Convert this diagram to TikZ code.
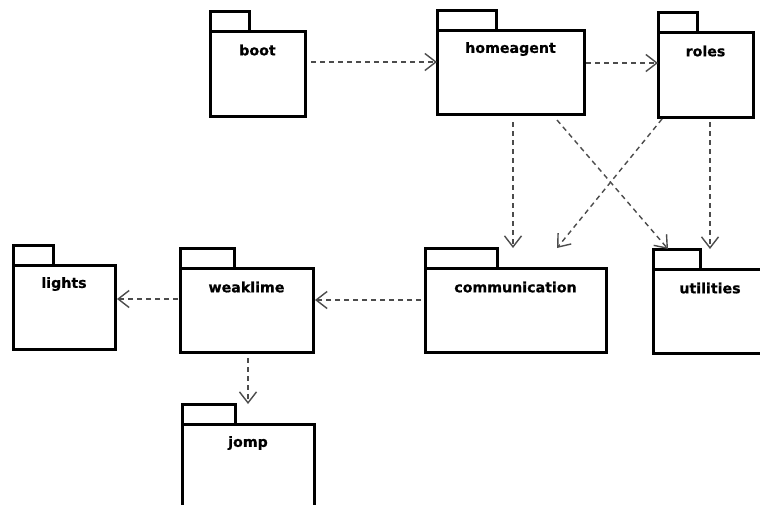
\documentclass[tikz,border=0pt]{standalone}
\usepackage{fontspec}
\setmainfont{DejaVu Sans}
\newfontfamily\pkgfont{DejaVu Sans}[BoldFeatures={FakeBold=0.6}]
\usetikzlibrary{arrows.meta}

\tikzset{
  pkgline/.style={line width=3pt, black},
  pkgbody/.style={pkgline, draw, fill=white, rectangle, anchor=north west,
                  inner sep=0pt, outer sep=0pt},
  pkgname/.style={font=\pkgfont\bfseries\fontsize{14.2}{16}\selectfont, inner sep=0pt,
                  anchor=center},
  dep/.style={draw=black!70, line width=1.4pt, dash pattern=on 5pt off 4pt,
              -{Straight Barb[length=11pt, width=17pt, line width=1.4pt]}},
}

% draws the folder tab on top of a package body
\newcommand{\pkgtab}[2]{%
  \draw[pkgline] (#1.north west) -- ++(0,-20) -| ([xshift=#2pt]#1.north west);}

\begin{document}
\begin{tikzpicture}[x=1pt, y=-1pt]
  \useasboundingbox (0,0) rectangle (760,504);
  \clip (0,0) rectangle (760,504);
  \fill[white] (0,0) rectangle (760,504);

  % package bodies
  \node[pkgbody, minimum width=95pt,  minimum height=85pt] (boot)          at (210,31)  {};
  \node[pkgbody, minimum width=147pt, minimum height=84pt] (homeagent)     at (437,30)  {};
  \node[pkgbody, minimum width=95pt,  minimum height=85pt] (roles)         at (658,32)  {};
  \node[pkgbody, minimum width=181pt, minimum height=84pt] (communication) at (425,268) {};
  \node[pkgbody, minimum width=130pt, minimum height=84pt] (utilities)     at (653,269) {};
  \node[pkgbody, minimum width=102pt, minimum height=84pt] (lights)        at (13,265)  {};
  \node[pkgbody, minimum width=133pt, minimum height=84pt] (weaklime)      at (180,268) {};
  \node[pkgbody, minimum width=132pt, minimum height=110pt] (jomp)         at (182,424) {};

  % folder tabs
  \pkgtab{boot}{39}
  \pkgtab{homeagent}{59}
  \pkgtab{roles}{39}
  \pkgtab{communication}{72}
  \pkgtab{utilities}{47}
  \pkgtab{lights}{40}
  \pkgtab{weaklime}{54}
  \pkgtab{jomp}{53}

  % package names
  \node[pkgname] (bootname)          at ([yshift=-19pt]boot.north)          {boot};
  \node[pkgname] (homeagentname)     at ([yshift=-19pt]homeagent.north)     {homeagent};
  \node[pkgname] (rolesname)         at ([yshift=-19pt]roles.north)         {roles};
  \node[pkgname] (communicationname) at ([yshift=-19pt]communication.north) {communication};
  \node[pkgname] (utilitiesname)     at ([shift={(57pt,-19pt)}]utilities.north west) {utilities};
  \node[pkgname] (lightsname)        at ([yshift=-19pt]lights.north)        {lights};
  \node[pkgname] (weaklimename)      at ([yshift=-19pt]weaklime.north)      {weaklime};
  \node[pkgname] (jompname)          at ([shift={(66pt,-19pt)}]jomp.north west) {jomp};

  % dependencies
  \draw[dep] ([shift={(6pt,-31pt)}]boot.north east) -- ([yshift=-32pt]homeagent.north west);
  \draw[dep] ([shift={(2pt,-33pt)}]homeagent.north east) -- ([yshift=-31pt]roles.north west);
  \draw[dep] ([shift={(76pt,-8pt)}]homeagent.south west) -- ([shift={(88pt,20pt)}]communication.north west);
  \draw[dep] ([shift={(4pt,-2pt)}]roles.south west) -- ([shift={(132pt,20pt)}]communication.north west);
  \draw[dep] ([shift={(120pt,-6pt)}]homeagent.south west) -- ([shift={(15pt,20pt)}]utilities.north west);
  \draw[dep] ([shift={(52pt,-5pt)}]roles.south west) -- ([shift={(57pt,20pt)}]utilities.north west);
  \draw[dep] ([shift={(-4pt,-32pt)}]communication.north west) -- ([shift={(2pt,-32pt)}]weaklime.north east);
  \draw[dep] ([shift={(-2pt,-31pt)}]weaklime.north west) -- ([shift={(2pt,-34pt)}]lights.north east);
  \draw[dep] ([shift={(68pt,-6pt)}]weaklime.south west) -- ([shift={(66pt,20pt)}]jomp.north west);
\end{tikzpicture}
\end{document}
